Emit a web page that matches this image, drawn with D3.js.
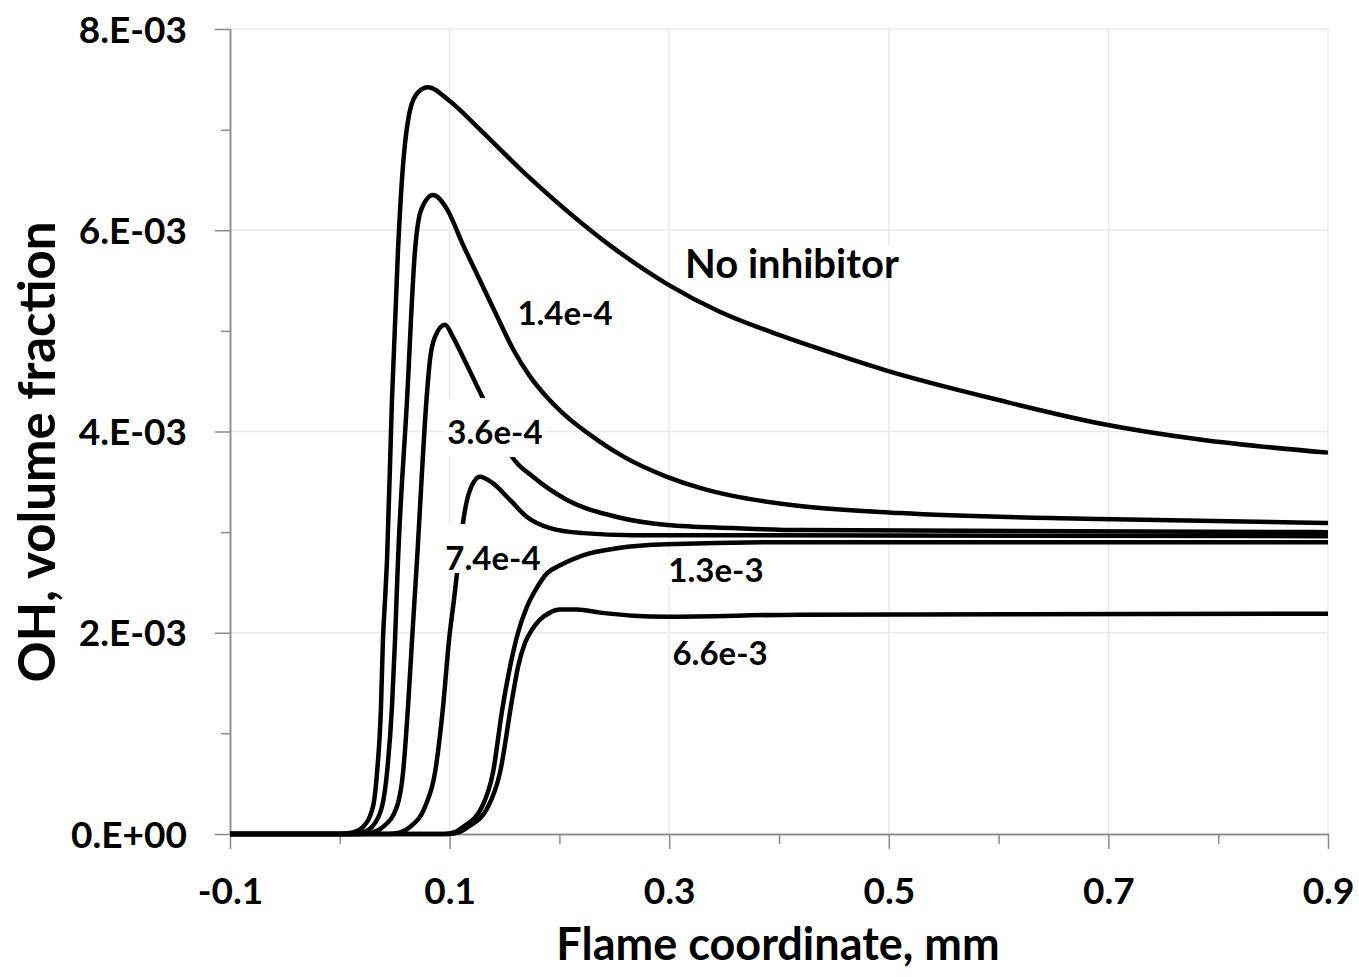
<!DOCTYPE html>
<html>
<head>
<meta charset="utf-8">
<script src="https://cdn.jsdelivr.net/npm/d3@7"></script>
<style>
  body { margin: 0; background: #fff; }
  svg { display: block; font-family: Lato, "Open Sans", sans-serif; font-weight: bold; }
</style>
</head>
<body>
<svg id="chart" width="1359" height="977"></svg>
<script>
// OH profiles: [flame coordinate mm, OH volume fraction in 1e-3]
var noInhibitor = [[-0.1,0],[0.0,0],[0.012,0.015],[0.0211,0.07],[0.0302,0.27],[0.0339,0.61],[0.0375,1.26],[0.0393,1.93],[0.0412,2.33],[0.043,2.72],[0.0475,4.31],[0.053,5.80],[0.0566,6.50],[0.0639,7.19],[0.0712,7.37],[0.0803,7.42],[0.0995,7.29],[0.1277,7.00],[0.173,6.52],[0.246,5.85],[0.299,5.46],[0.346,5.19],[0.40,4.96],[0.437,4.82],[0.4965,4.61],[0.601,4.31],[0.6923,4.08],[0.7834,3.92],[0.9,3.79]];
var inh14e4 = [[-0.1,0],[0.01,0],[0.021,0.015],[0.0293,0.07],[0.0384,0.27],[0.043,0.61],[0.0475,1.26],[0.0503,1.93],[0.053,2.72],[0.0612,4.31],[0.0685,5.80],[0.074,6.20],[0.0849,6.35],[0.0976,6.21],[0.112,5.86],[0.1277,5.50],[0.143,5.15],[0.1577,4.82],[0.173,4.55],[0.1887,4.34],[0.2033,4.18],[0.234,3.92],[0.26,3.74],[0.298,3.55],[0.328,3.44],[0.358,3.36],[0.419,3.26],[0.51,3.19],[0.692,3.13],[0.9,3.09]];
var inh36e4 = [[-0.1,0],[0.018,0],[0.03,0.015],[0.0393,0.07],[0.052,0.27],[0.0576,0.61],[0.0621,1.26],[0.0658,1.93],[0.0703,2.72],[0.0794,4.38],[0.0821,4.71],[0.0867,4.94],[0.0958,5.06],[0.103,4.94],[0.1122,4.74],[0.1304,4.33],[0.144,4.03],[0.1568,3.75],[0.176,3.55],[0.207,3.32],[0.2525,3.15],[0.298,3.07],[0.358,3.04],[0.419,3.02],[0.9,3.00]];
var inh74e4 = [[-0.1,0],[0.045,0],[0.055,0.015],[0.0639,0.07],[0.0776,0.27],[0.0867,0.61],[0.094,1.26],[0.0995,1.93],[0.104,2.33],[0.1067,2.59],[0.1095,2.84],[0.1122,3.09],[0.118,3.40],[0.1277,3.55],[0.139,3.49],[0.155,3.32],[0.1705,3.15],[0.1914,3.04],[0.2215,2.99],[0.267,2.97],[0.9,2.96]];
var inh13e3 = [[-0.1,0],[0.095,0],[0.104,0.015],[0.1122,0.07],[0.1295,0.27],[0.1395,0.61],[0.1477,1.22],[0.155,1.66],[0.1623,2.0],[0.1705,2.26],[0.1796,2.45],[0.1887,2.59],[0.2005,2.67],[0.2215,2.77],[0.2525,2.84],[0.298,2.88],[0.419,2.90],[0.9,2.90]];
var inh66e3 = [[-0.1,0],[0.1,0],[0.108,0.015],[0.1168,0.07],[0.135,0.27],[0.1459,0.61],[0.1568,1.33],[0.1623,1.66],[0.1687,1.90],[0.175,2.03],[0.1823,2.13],[0.1914,2.20],[0.2005,2.23],[0.216,2.23],[0.237,2.20],[0.267,2.17],[0.298,2.16],[0.419,2.18],[0.9,2.19]];

var series = [noInhibitor, inh14e4, inh36e4, inh74e4, inh13e3, inh66e3];

var xTicks = [-0.1, 0.1, 0.3, 0.5, 0.7, 0.9];
var xTickLabels = ["-0.1", "0.1", "0.3", "0.5", "0.7", "0.9"];
var xMinor = [0, 0.2, 0.4, 0.6, 0.8];
var yTicks = [0, 2, 4, 6, 8];
var yTickLabels = ["0.E+00", "2.E-03", "4.E-03", "6.E-03", "8.E-03"];
var yMinor = [1, 3, 5, 7];

// curve labels, anchored at text centre / baseline in data units
var labelText = ["No inhibitor", "1.4e-4", "3.6e-4", "7.4e-4", "1.3e-3", "6.6e-3"];
var labelX = [0.4118, 0.2051, 0.1413, 0.1395, 0.3426, 0.3463];
var labelY = [5.525, 5.058, 3.876, 2.624, 2.504, 1.68];

// white box behind each label (px above / below baseline, trim on the right)
var boxStyle = {
  "No inhibitor": {size: 40, above: 33, below: 2, trim: 0},
  "3.6e-4": {size: 33, above: 46, below: 13, trim: 0},
  "7.4e-4": {size: 33, above: 46, below: 3, trim: 12}
};

var svg = d3.select("#chart");
var x = d3.scaleLinear().domain([-0.1, 0.9]).range([230, 1328]);
var y = d3.scaleLinear().domain([0, 8]).range([834, 29]);

// gridlines
svg.append("g").selectAll("line")
  .data(xTicks.slice(1)).enter().append("line")
  .attr("x1", d => x(d)).attr("x2", d => x(d))
  .attr("y1", y(0)).attr("y2", y(8))
  .attr("stroke", "#e9e9e9").attr("stroke-width", 1.5);
svg.append("g").selectAll("line")
  .data(yTicks.slice(1)).enter().append("line")
  .attr("x1", x(-0.1)).attr("x2", x(0.9))
  .attr("y1", d => y(d)).attr("y2", d => y(d))
  .attr("stroke", "#e9e9e9").attr("stroke-width", 1.5);

var axisColor = "#8a8a8a";

function styleAxis(g) {
  g.select(".domain").attr("stroke", axisColor).attr("stroke-width", 1.5);
  g.selectAll(".tick line").attr("stroke", axisColor).attr("stroke-width", 1.5);
  g.selectAll(".tick text").attr("fill", "#000").style("font-size", "37px")
    .style("font-family", "Lato").style("font-weight", "bold");
}

// minor ticks first
svg.append("g").attr("transform", "translate(0," + y(0) + ")")
  .call(d3.axisBottom(x).tickValues(xMinor).tickSize(10).tickSizeOuter(0).tickFormat(""))
  .call(styleAxis);
svg.append("g").attr("transform", "translate(" + x(-0.1) + ",0)")
  .call(d3.axisLeft(y).tickValues(yMinor).tickSize(9).tickSizeOuter(0).tickFormat(""))
  .call(styleAxis);

var xAxis = svg.append("g").attr("transform", "translate(0," + y(0) + ")")
  .call(d3.axisBottom(x).tickValues(xTicks).tickSize(15).tickSizeOuter(0)
    .tickFormat((d, i) => xTickLabels[i]))
  .call(styleAxis);
xAxis.selectAll(".tick text").attr("y", 70).attr("dy", 0);

var yAxis = svg.append("g").attr("transform", "translate(" + x(-0.1) + ",0)")
  .call(d3.axisLeft(y).tickValues(yTicks).tickSize(15).tickSizeOuter(0)
    .tickFormat((d, i) => yTickLabels[i]))
  .call(styleAxis);
yAxis.selectAll(".tick text").attr("x", -43).attr("dy", 0).attr("y", 13);

// curves
var line = d3.line()
  .x(d => x(d[0]))
  .y(d => y(d[1]))
  .curve(d3.curveMonotoneX);

svg.append("g").selectAll("path")
  .data(series).enter().append("path")
  .attr("d", line)
  .attr("fill", "none")
  .attr("stroke", "#000")
  .attr("stroke-width", 4.5)
  .attr("stroke-linejoin", "round");

// labels with white boxes
var lg = svg.append("g");
labelText.forEach(function(t, i) {
  var st = boxStyle[t] || {size: 33, above: 27, below: 3, trim: 0};
  var g = lg.append("g");
  var rect = g.append("rect").attr("fill", "#fff");
  var txt = g.append("text")
    .attr("x", x(labelX[i])).attr("y", y(labelY[i]))
    .attr("text-anchor", "middle")
    .style("font-size", st.size + "px")
    .attr("fill", "#000")
    .text(t);
  var bb = txt.node().getBBox();
  rect.attr("x", bb.x - 2).attr("width", bb.width + 4 - st.trim)
    .attr("y", y(labelY[i]) - st.above)
    .attr("height", st.above + st.below);
});

// axis titles
svg.append("text")
  .attr("x", 778).attr("y", 960)
  .attr("text-anchor", "middle")
  .style("font-size", "45px")
  .text("Flame coordinate, mm");

svg.append("text")
  .attr("transform", "translate(55,452) rotate(-90)")
  .attr("text-anchor", "middle")
  .style("font-size", "51px")
  .text("OH, volume fraction");
</script>
</body>
</html>
